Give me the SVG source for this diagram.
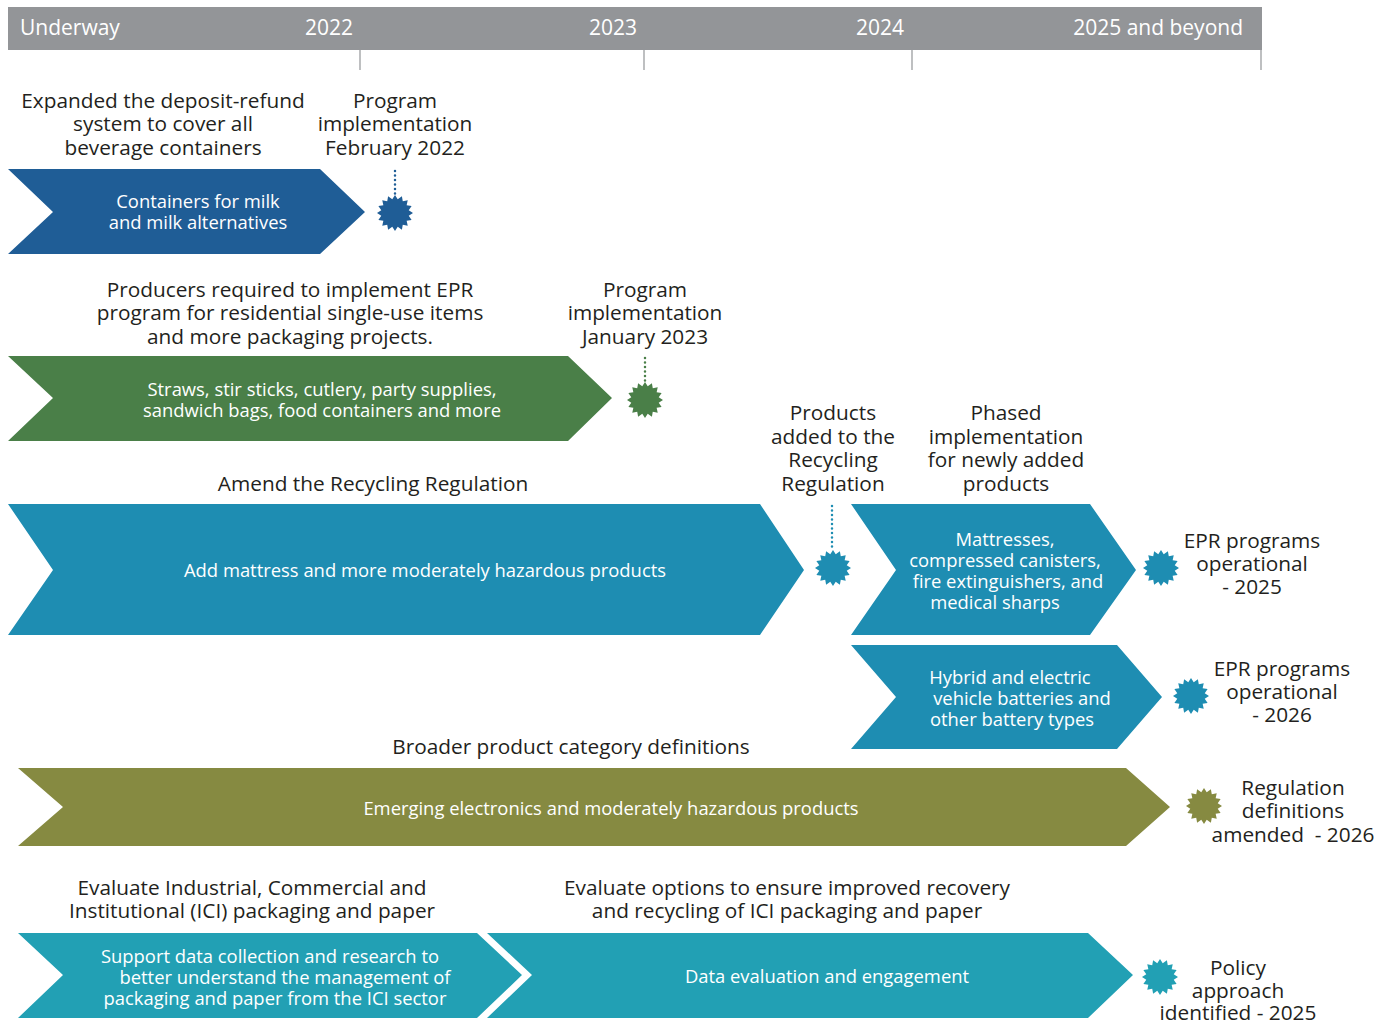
<svg xmlns="http://www.w3.org/2000/svg" xmlns:xlink="http://www.w3.org/1999/xlink" width="1393" height="1023" viewBox="0 0 1393 1023">
<defs>
<style>
text{font-family:"Open Sans","Noto Sans","Liberation Sans",sans-serif;}
.lbl{font-size:20.8px;fill:#231f20;text-anchor:middle;}
.in{font-size:18.4px;fill:#ffffff;text-anchor:middle;}
.hdr{font-size:21px;fill:#ffffff;}
.tick{stroke:#939598;stroke-width:1.2;}
.dot{stroke-width:2.5;stroke-dasharray:0.1 4.4;stroke-linecap:round;fill:none;}
</style>
<path id="star" d="M18,0 L13.73,2.73 L16.63,6.89 L11.64,7.78 L12.73,12.73 L7.78,11.64 L6.89,16.63 L2.73,13.73 L0,18 L-2.73,13.73 L-6.89,16.63 L-7.78,11.64 L-12.73,12.73 L-11.64,7.78 L-16.63,6.89 L-13.73,2.73 L-18,0 L-13.73,-2.73 L-16.63,-6.89 L-11.64,-7.78 L-12.73,-12.73 L-7.78,-11.64 L-6.89,-16.63 L-2.73,-13.73 L0,-18 L2.73,-13.73 L6.89,-16.63 L7.78,-11.64 L12.73,-12.73 L11.64,-7.78 L16.63,-6.89 L13.73,-2.73 Z"/>
</defs>
<rect width="1393" height="1023" fill="#ffffff"/>

<g id="header">
<rect x="8" y="7" width="1254" height="43" fill="#939598"/>
<line class="tick" x1="360" y1="50" x2="360" y2="70"/>
<line class="tick" x1="644" y1="50" x2="644" y2="70"/>
<line class="tick" x1="912" y1="50" x2="912" y2="70"/>
<line class="tick" x1="1261" y1="50" x2="1261" y2="70"/>
<text class="hdr" x="20" y="35">Underway</text>
<text class="hdr" x="329" y="35" text-anchor="middle">2022</text>
<text class="hdr" x="613" y="35" text-anchor="middle">2023</text>
<text class="hdr" x="880" y="35" text-anchor="middle">2024</text>
<text class="hdr" x="1243" y="35" text-anchor="end">2025 and beyond</text>
</g>

<g id="connectors">
<line class="dot" x1="395" y1="171" x2="395" y2="196" stroke="#1f5d96"/>
<line class="dot" x1="645" y1="358" x2="645" y2="383" stroke="#4a7f48"/>
<line class="dot" x1="832" y1="506" x2="832" y2="551" stroke="#1e8db2"/>
</g>

<g id="node-milk">
<polygon points="8,169 320,169 365,212 320,254 8,254 53,212" fill="#1f5d96"/>
<text class="in" x="198" y="208">Containers for milk</text>
<text class="in" x="198" y="229">and milk alternatives</text>
</g>
<g id="label-deposit">
<text class="lbl" x="163" y="108">Expanded the deposit-refund</text>
<text class="lbl" x="163" y="131">system to cover all</text>
<text class="lbl" x="163" y="155">beverage containers</text>
</g>
<g id="milestone-feb2022">
<use xlink:href="#star" x="395" y="213" fill="#1f5d96"/>
<text class="lbl" x="395" y="108">Program</text>
<text class="lbl" x="395" y="131">implementation</text>
<text class="lbl" x="395" y="155">February 2022</text>
</g>

<g id="node-straws">
<polygon points="8,356 568,356 612,398 568,441 8,441 53,398" fill="#4a7f48"/>
<text class="in" x="322" y="396">Straws, stir sticks, cutlery, party supplies,</text>
<text class="in" x="322" y="417">sandwich bags, food containers and more</text>
</g>
<g id="label-producers">
<text class="lbl" x="290" y="297">Producers required to implement EPR</text>
<text class="lbl" x="290" y="320">program for residential single-use items</text>
<text class="lbl" x="290" y="344">and more packaging projects.</text>
</g>
<g id="milestone-jan2023">
<use xlink:href="#star" x="645" y="400" fill="#4a7f48"/>
<text class="lbl" x="645" y="297">Program</text>
<text class="lbl" x="645" y="320">implementation</text>
<text class="lbl" x="645" y="344">January 2023</text>
</g>

<g id="node-mattress">
<polygon points="8,504 760,504 804,570 760,635 8,635 53,570" fill="#1e8db2"/>
<text class="in" x="425" y="577">Add mattress and more moderately hazardous products</text>
</g>
<g id="label-amend">
<text class="lbl" x="373" y="491">Amend the Recycling Regulation</text>
</g>
<g id="milestone-products">
<use xlink:href="#star" x="833" y="568" fill="#1e8db2"/>
<text class="lbl" x="833" y="420">Products</text>
<text class="lbl" x="833" y="444">added to the</text>
<text class="lbl" x="833" y="467">Recycling</text>
<text class="lbl" x="833" y="491">Regulation</text>
</g>
<g id="label-phased">
<text class="lbl" x="1006" y="420">Phased</text>
<text class="lbl" x="1006" y="444">implementation</text>
<text class="lbl" x="1006" y="467">for newly added</text>
<text class="lbl" x="1006" y="491">products</text>
</g>

<g id="node-canisters">
<polygon points="851,504 1090,504 1136,570 1090,635 851,635 896,570" fill="#1e8db2"/>
<text class="in" x="1005" y="546">Mattresses,</text>
<text class="in" x="1005" y="567">compressed canisters,</text>
<text class="in" x="1008" y="588">fire extinguishers, and</text>
<text class="in" x="995" y="609">medical sharps</text>
</g>
<g id="milestone-epr2025">
<use xlink:href="#star" x="1161" y="568" fill="#1e8db2"/>
<text class="lbl" x="1252" y="548">EPR programs</text>
<text class="lbl" x="1252" y="571">operational</text>
<text class="lbl" x="1252" y="594">- 2025</text>
</g>

<g id="node-batteries">
<polygon points="851,645 1117,645 1162,697 1117,749 851,749 896,697" fill="#1e8db2"/>
<text class="in" x="1010" y="684">Hybrid and electric</text>
<text class="in" x="1022" y="705">vehicle batteries and</text>
<text class="in" x="1012" y="726">other battery types</text>
</g>
<g id="milestone-epr2026">
<use xlink:href="#star" x="1191" y="696" fill="#1e8db2"/>
<text class="lbl" x="1282" y="676">EPR programs</text>
<text class="lbl" x="1282" y="699">operational</text>
<text class="lbl" x="1282" y="722">- 2026</text>
</g>

<g id="node-electronics">
<polygon points="18,768 1126,768 1170,807 1126,846 18,846 63,807" fill="#868a41"/>
<text class="in" x="611" y="815">Emerging electronics and moderately hazardous products</text>
</g>
<g id="label-broader">
<text class="lbl" x="571" y="754">Broader product category definitions</text>
</g>
<g id="milestone-definitions">
<use xlink:href="#star" x="1204" y="806" fill="#868a41"/>
<text class="lbl" x="1293" y="795">Regulation</text>
<text class="lbl" x="1293" y="818">definitions</text>
<text class="lbl" x="1293" y="842" style="white-space:pre">amended  - 2026</text>
</g>

<g id="node-ici-research">
<polygon points="18,933 477,933 522,975 477,1018 18,1018 63,975" fill="#22a0b4"/>
<text class="in" x="270" y="963">Support data collection and research to</text>
<text class="in" x="285" y="984">better understand the management of</text>
<text class="in" x="275" y="1005">packaging and paper from the ICI sector</text>
</g>
<g id="label-evaluate-ici">
<text class="lbl" x="252" y="895">Evaluate Industrial, Commercial and</text>
<text class="lbl" x="252" y="918">Institutional (ICI) packaging and paper</text>
</g>
<g id="node-data-eval">
<polygon points="487,933 1088,933 1133,975 1088,1018 487,1018 532,975" fill="#22a0b4"/>
<text class="in" x="827" y="983">Data evaluation and engagement</text>
</g>
<g id="label-evaluate-options">
<text class="lbl" x="787" y="895">Evaluate options to ensure improved recovery</text>
<text class="lbl" x="787" y="918">and recycling of ICI packaging and paper</text>
</g>
<g id="milestone-policy">
<use xlink:href="#star" x="1160" y="977" fill="#22a0b4"/>
<text class="lbl" x="1238" y="975">Policy</text>
<text class="lbl" x="1238" y="998">approach</text>
<text class="lbl" x="1238" y="1020">identified - 2025</text>
</g>
</svg>
